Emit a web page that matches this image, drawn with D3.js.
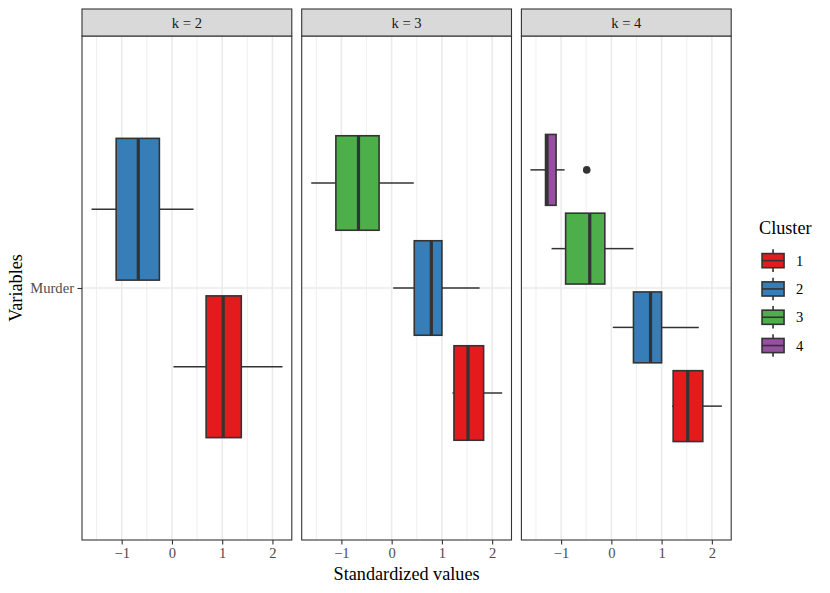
<!DOCTYPE html>
<html><head><meta charset="utf-8">
<script src="https://cdn.jsdelivr.net/npm/d3@7"></script>
<style>body{margin:0;background:#fff}svg{display:block}text{font-family:"Liberation Serif","Times New Roman",serif}</style>
</head><body><svg id="c" width="830" height="593"></svg>
<script>
// ---- data ----
const facets = ["k = 2", "k = 3", "k = 4"];
const clusterNames = ["1", "2", "3", "4"];
const clusterColors = ["#E41A1C", "#377EB8", "#4DAF4A", "#984EA3"];
const variables = ["Murder"];
const xTicks = [-1, 0, 1, 2];
// [cluster, lowerWhisker, q1, median, q3, upperWhisker]
const statsK2 = [
  ["1", 0.03, 0.68, 1.02, 1.38, 2.20],
  ["2", -1.60, -1.11, -0.67, -0.25, 0.43]
];
const statsK3 = [
  ["1", 1.21, 1.24, 1.52, 1.83, 2.20],
  ["2", 0.03, 0.45, 0.79, 1.00, 1.75],
  ["3", -1.60, -1.11, -0.66, -0.25, 0.44]
];
const statsK4 = [
  ["1", 1.21, 1.23, 1.52, 1.82, 2.20],
  ["2", 0.03, 0.44, 0.78, 1.00, 1.74],
  ["3", -1.19, -0.91, -0.43, -0.13, 0.44],
  ["4", -1.61, -1.31, -1.28, -1.10, -0.93]
];
// [cluster, value]
const outliersK2 = [];
const outliersK3 = [];
const outliersK4 = [["4", -0.49]];

const facetStats = [statsK2, statsK3, statsK4];
const facetOutliers = [outliersK2, outliersK3, outliersK4];

// ---- layout ----
const svg = d3.select("#c");
const panelLeft = 82, panelW = 209.8, gap = 9.9;
const stripTop = 9, stripH = 27, panelTop = 36, panelBottom = 540;
const dark = "#333333";
const color = d3.scaleOrdinal().domain(clusterNames).range(clusterColors);
const y = d3.scaleLinear().domain([0.4, 1.6]).range([panelBottom, panelTop]);
const yCat = d3.scaleOrdinal().domain(variables).range([1]);

facets.forEach((f, fi) => {
  const x0 = panelLeft + fi * (panelW + gap);
  const x = d3.scaleLinear().domain([-1.79, 2.385]).range([x0, x0 + panelW]);
  const g = svg.append("g");
  g.append("rect").attr("x", x0).attr("y", panelTop).attr("width", panelW).attr("height", panelBottom - panelTop).attr("fill", "#fff");
  const minor = [-1.5, -0.5, 0.5, 1.5];
  g.selectAll(".mn").data(minor).join("line")
    .attr("x1", d => x(d)).attr("x2", d => x(d)).attr("y1", panelTop).attr("y2", panelBottom)
    .attr("stroke", "#EBEBEB").attr("stroke-width", 0.8);
  g.selectAll(".mj").data(xTicks).join("line")
    .attr("x1", d => x(d)).attr("x2", d => x(d)).attr("y1", panelTop).attr("y2", panelBottom)
    .attr("stroke", "#EBEBEB").attr("stroke-width", 1.6);
  g.selectAll(".yg").data(variables).join("line")
    .attr("x1", x0).attr("x2", x0 + panelW).attr("y1", d => y(yCat(d))).attr("y2", d => y(yCat(d)))
    .attr("stroke", "#EBEBEB").attr("stroke-width", 1.6);

  const stats = facetStats[fi];
  const n = stats.length;
  const slot = 0.75 / n;
  const bh = slot * 0.9;
  stats.forEach((s, i) => {
    const [cl, lo, q1, md, q3, hi] = s;
    const cy = yCat("Murder") - 0.375 + (i + 0.5) * slot;
    const py = y(cy);
    const top = y(cy + bh / 2), bot = y(cy - bh / 2);
    g.append("line").attr("x1", x(lo)).attr("x2", x(q1)).attr("y1", py).attr("y2", py).attr("stroke", dark).attr("stroke-width", 1.5);
    g.append("line").attr("x1", x(q3)).attr("x2", x(hi)).attr("y1", py).attr("y2", py).attr("stroke", dark).attr("stroke-width", 1.5);
    g.append("rect").attr("x", x(q1)).attr("y", top).attr("width", x(q3) - x(q1)).attr("height", bot - top)
      .attr("fill", color(cl)).attr("stroke", dark).attr("stroke-width", 1.6);
    g.append("line").attr("x1", x(md)).attr("x2", x(md)).attr("y1", top).attr("y2", bot).attr("stroke", dark).attr("stroke-width", 3.2);
    facetOutliers[fi].filter(o => o[0] === cl).forEach(o => {
      g.append("circle").attr("cx", x(o[1])).attr("cy", py).attr("r", 3.8).attr("fill", dark);
    });
  });

  g.append("rect").attr("x", x0).attr("y", panelTop).attr("width", panelW).attr("height", panelBottom - panelTop)
    .attr("fill", "none").attr("stroke", dark).attr("stroke-width", 1.1);
  g.append("rect").attr("x", x0).attr("y", stripTop).attr("width", panelW).attr("height", stripH)
    .attr("fill", "#D9D9D9").attr("stroke", dark).attr("stroke-width", 1.1);
  g.append("text").attr("x", x0 + panelW / 2).attr("y", stripTop + stripH / 2).attr("dy", "0.35em")
    .attr("text-anchor", "middle").attr("font-size", 14.6).attr("fill", "#1A1A1A").text(f);

  const ax = g.append("g").attr("transform", `translate(0,${panelBottom})`)
    .call(d3.axisBottom(x).tickValues(xTicks).tickFormat(d3.format("d")).tickSize(4.5).tickPadding(3.5));
  ax.select(".domain").remove();
  ax.selectAll(".tick line").attr("stroke", dark).attr("stroke-width", 1.1);
  ax.selectAll(".tick text").attr("font-size", 14.6).attr("fill", "#4D4D4D");
});

const ay = svg.append("g").attr("transform", `translate(${panelLeft},0)`)
  .call(d3.axisLeft(y).tickValues([1]).tickFormat(() => variables[0]).tickSize(4.5).tickPadding(3.5));
ay.select(".domain").remove();
ay.selectAll(".tick line").attr("stroke", dark).attr("stroke-width", 1.1);
ay.selectAll(".tick text").attr("font-size", 14.6).attr("fill", "#4D4D4D");

const totalW = 3 * panelW + 2 * gap;
svg.append("text").attr("x", panelLeft + totalW / 2).attr("y", 580).attr("text-anchor", "middle")
  .attr("font-size", 18.2).attr("fill", "#000").text("Standardized values");
svg.append("text").attr("transform", `translate(22,${(panelTop + panelBottom) / 2}) rotate(-90)`)
  .attr("text-anchor", "middle").attr("font-size", 18.2).attr("fill", "#000").text("Variables");

const lg = svg.append("g");
lg.append("text").attr("x", 759).attr("y", 234).attr("font-size", 18.2).attr("fill", "#000").text("Cluster");
const keyX = 759.3, keyW = 27.5, keyH = 28.3, keyY0 = 246.5;
clusterNames.forEach((c, i) => {
  const ky = keyY0 + i * keyH;
  const cx = keyX + keyW / 2;
  lg.append("line").attr("x1", cx).attr("x2", cx).attr("y1", ky + 0.1 * keyH).attr("y2", ky + 0.25 * keyH).attr("stroke", dark).attr("stroke-width", 1.6);
  lg.append("line").attr("x1", cx).attr("x2", cx).attr("y1", ky + 0.75 * keyH).attr("y2", ky + 0.9 * keyH).attr("stroke", dark).attr("stroke-width", 1.6);
  lg.append("rect").attr("x", keyX + 0.1 * keyW).attr("y", ky + 0.25 * keyH).attr("width", 0.8 * keyW).attr("height", 0.5 * keyH)
    .attr("fill", color(c)).attr("stroke", dark).attr("stroke-width", 1.6);
  lg.append("line").attr("x1", keyX + 0.1 * keyW).attr("x2", keyX + 0.9 * keyW).attr("y1", ky + 0.5 * keyH).attr("y2", ky + 0.5 * keyH).attr("stroke", dark).attr("stroke-width", 1.6);
  lg.append("text").attr("x", 796).attr("y", ky + keyH / 2).attr("dy", "0.35em").attr("font-size", 14.6).attr("fill", "#000").text(c);
});
</script></body></html>
